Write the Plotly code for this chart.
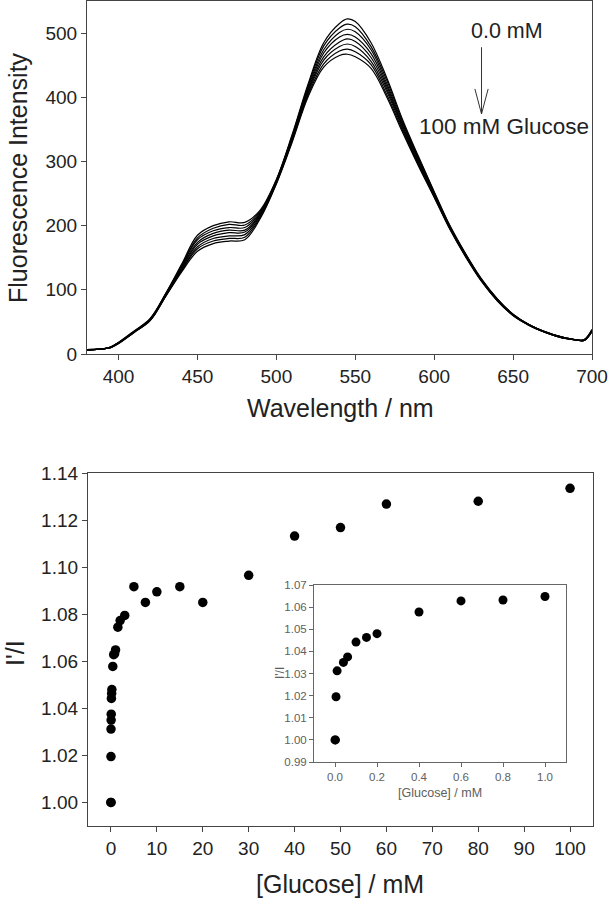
import plotly.graph_objects as go

# ---------------- Top panel: fluorescence spectra ----------------
wavelength = [380, 390, 395, 400, 410, 420, 430, 440, 450, 460, 470, 480, 490, 500,
              510, 520, 530, 540, 545, 550, 560, 570, 580, 590, 600, 610, 620, 630,
              640, 650, 660, 670, 680, 690, 695, 700]

spec_01 = [7, 8, 11, 18, 36, 55, 95, 140, 185, 200, 206, 205, 225, 272, 342, 420, 485, 515, 522, 518,
           485, 430, 365, 308, 253, 200, 156, 117, 86, 62, 46, 35, 27, 22, 22, 38]
spec_02 = [7, 8, 11, 18, 36, 55, 94, 138, 181, 196, 202, 201, 223, 271, 340, 417, 480, 508, 514, 510,
           479, 426, 362, 306, 252, 199, 155, 116, 86, 62, 46, 35, 27, 22, 22, 38]
spec_03 = [7, 8, 11, 18, 35, 54, 94, 137, 178, 192, 197, 197, 221, 270, 338, 414, 474, 501, 506, 502,
           474, 421, 359, 304, 250, 198, 155, 116, 85, 61, 46, 35, 27, 22, 22, 37]
spec_04 = [7, 8, 11, 17, 35, 54, 93, 135, 174, 188, 193, 193, 219, 269, 337, 411, 469, 494, 498, 494,
           468, 417, 356, 302, 249, 197, 154, 115, 85, 61, 46, 35, 27, 22, 22, 37]
spec_05 = [6, 8, 10, 17, 35, 53, 92, 133, 171, 184, 189, 190, 218, 268, 335, 409, 463, 486, 491, 487,
           462, 413, 354, 299, 248, 197, 153, 115, 84, 61, 45, 34, 26, 22, 21, 36]
spec_06 = [6, 8, 10, 17, 34, 53, 91, 131, 167, 180, 184, 186, 216, 267, 333, 406, 458, 479, 483, 479,
           456, 409, 351, 297, 247, 196, 152, 114, 84, 60, 45, 34, 26, 22, 21, 36]
spec_07 = [6, 8, 10, 17, 34, 52, 91, 130, 164, 176, 180, 182, 214, 266, 332, 403, 452, 472, 475, 471,
           451, 404, 348, 295, 245, 195, 152, 114, 83, 60, 45, 34, 26, 22, 21, 35]
spec_08 = [6, 8, 10, 16, 34, 52, 90, 128, 160, 172, 176, 178, 212, 265, 330, 400, 447, 465, 467, 463,
           445, 400, 345, 293, 244, 194, 151, 113, 83, 60, 45, 34, 26, 22, 21, 35]

spectra = [spec_01, spec_02, spec_03, spec_04, spec_05, spec_06, spec_07, spec_08]

wl_ticks = [400, 450, 500, 550, 600, 650, 700]
fl_ticks = [0, 100, 200, 300, 400, 500]

# ---------------- Bottom panel: I'/I vs [Glucose] ----------------
glucose_mM = [0, 0.002, 0.005, 0.01, 0.04, 0.06, 0.1, 0.15, 0.2, 0.4, 0.6, 0.8, 1.0,
              1.5, 2, 3, 5, 7.5, 10, 15, 20, 30, 40, 50, 60, 80, 100]
ratio = [1.000, 1.000, 1.0195, 1.0312, 1.0350, 1.0375, 1.0442, 1.0463, 1.0480, 1.0578,
         1.0628, 1.0632, 1.0648, 1.0745, 1.0773, 1.0795, 1.0917, 1.0850, 1.0895, 1.0917,
         1.0850, 1.0965, 1.1132, 1.1168, 1.1268, 1.1280, 1.1335]

main_x_ticks = [0, 10, 20, 30, 40, 50, 60, 70, 80, 90, 100]
main_y_ticks = [1.00, 1.02, 1.04, 1.06, 1.08, 1.10, 1.12, 1.14]
inset_x_ticks = [0.0, 0.2, 0.4, 0.6, 0.8, 1.0]
inset_y_ticks = [0.99, 1.00, 1.01, 1.02, 1.03, 1.04, 1.05, 1.06, 1.07]

inset_x = [g for g in glucose_mM if g <= 1.0]
inset_y = [r for g, r in zip(glucose_mM, ratio) if g <= 1.0]

FONT = "Liberation Sans, Arial, sans-serif"
FRAME = "#444444"
TXT = "#222222"
INSET_TXT = "#606060"

fig = go.Figure()

for s in spectra:
    fig.add_trace(go.Scatter(x=wavelength, y=s, mode="lines", line=dict(color="black", width=1.2, shape="spline"),
                             xaxis="x", yaxis="y", showlegend=False, hoverinfo="skip"))

fig.add_trace(go.Scatter(x=glucose_mM, y=ratio, mode="markers",
                         marker=dict(color="black", size=9.5), xaxis="x2", yaxis="y2", showlegend=False))

fig.add_trace(go.Scatter(x=inset_x, y=inset_y, mode="markers",
                         marker=dict(color="black", size=9), xaxis="x3", yaxis="y3", showlegend=False))

common = dict(showline=True, linecolor=FRAME, linewidth=1.2, mirror=True, ticks="outside",
              tickcolor=FRAME, showgrid=False, zeroline=False, automargin=False)
inset_common = {**common, "linecolor": "#666666", "tickcolor": "#666666", "linewidth": 1}

fig.update_layout(
    template="none",
    width=608, height=900,
    margin=dict(l=0, r=0, t=0, b=0, autoexpand=False),
    paper_bgcolor="white", plot_bgcolor="white",
    font=dict(family=FONT, color=TXT),
    showlegend=False,
    xaxis=dict(domain=[87/608, 592/608], anchor="y", range=[380, 700], tickvals=wl_ticks,
               ticklen=5, tickfont=dict(size=19, color=TXT), **common),
    yaxis=dict(domain=[1-354/900, 1-1/900], anchor="x", range=[0, 550], tickvals=fl_ticks,
               ticklen=5, tickfont=dict(size=19, color=TXT), **common),
    xaxis2=dict(domain=[88/608, 593/608], anchor="y2", range=[-5, 105], tickvals=main_x_ticks,
                ticklen=5, tickfont=dict(size=19, color=TXT), **common),
    yaxis2=dict(domain=[1-826/900, 1-473/900], anchor="x2", range=[0.99, 1.14], tickvals=main_y_ticks,
                tickformat=".2f", ticklen=5, tickfont=dict(size=19, color=TXT), **common),
    xaxis3=dict(domain=[314/608, 566/608], anchor="y3", range=[-0.1, 1.1], tickvals=inset_x_ticks,
                tickformat=".1f", ticklen=4, tickfont=dict(size=11.5, color=INSET_TXT), **inset_common),
    yaxis3=dict(domain=[1-762/900, 1-585/900], anchor="x3", range=[0.99, 1.07], tickvals=inset_y_ticks,
                tickformat=".2f", ticklen=4, tickfont=dict(size=11.5, color=INSET_TXT), **inset_common),
)

ann = [
    dict(text="Fluorescence Intensity", x=18/608, y=1-178/900, textangle=-90, font=dict(size=25)),
    dict(text="Wavelength / nm", x=340/608, y=1-408/900, font=dict(size=25)),
    dict(text="I'/I", x=15/608, y=1-653/900, textangle=-90, font=dict(size=25)),
    dict(text="[Glucose] / mM", x=340/608, y=1-884/900, font=dict(size=25)),
    dict(text="[Glucose] / mM", x=440/608, y=1-793/900, font=dict(size=12.5, color=INSET_TXT)),
    dict(text="I'/I", x=280/608, y=1-673/900, textangle=-90, font=dict(size=12, color=INSET_TXT)),
]
for a in ann:
    fig.add_annotation(xref="paper", yref="paper", showarrow=False, xanchor="center", yanchor="middle", **a)

fig.add_annotation(x=646, y=504, xref="x", yref="y", text="0.0 mM", showarrow=False,
                   font=dict(size=21.5, color=TXT))
fig.add_annotation(x=644, y=355, xref="x", yref="y", text="100 mM Glucose", showarrow=False,
                   font=dict(size=22.5, color=TXT))

# arrow (shaft + open V head)
fig.add_shape(type="line", xref="x", yref="y", x0=630, y0=478, x1=630, y1=374, line=dict(color="#333", width=1))
fig.add_shape(type="line", xref="x", yref="y", x0=625.8, y0=413, x1=630, y1=374, line=dict(color="#333", width=1))
fig.add_shape(type="line", xref="x", yref="y", x0=634.2, y0=413, x1=630, y1=374, line=dict(color="#333", width=1))

fig.write_html("out.html", config={"displayModeBar": False},
               post_script="document.body.style.margin='0';document.body.style.overflow='hidden';")
